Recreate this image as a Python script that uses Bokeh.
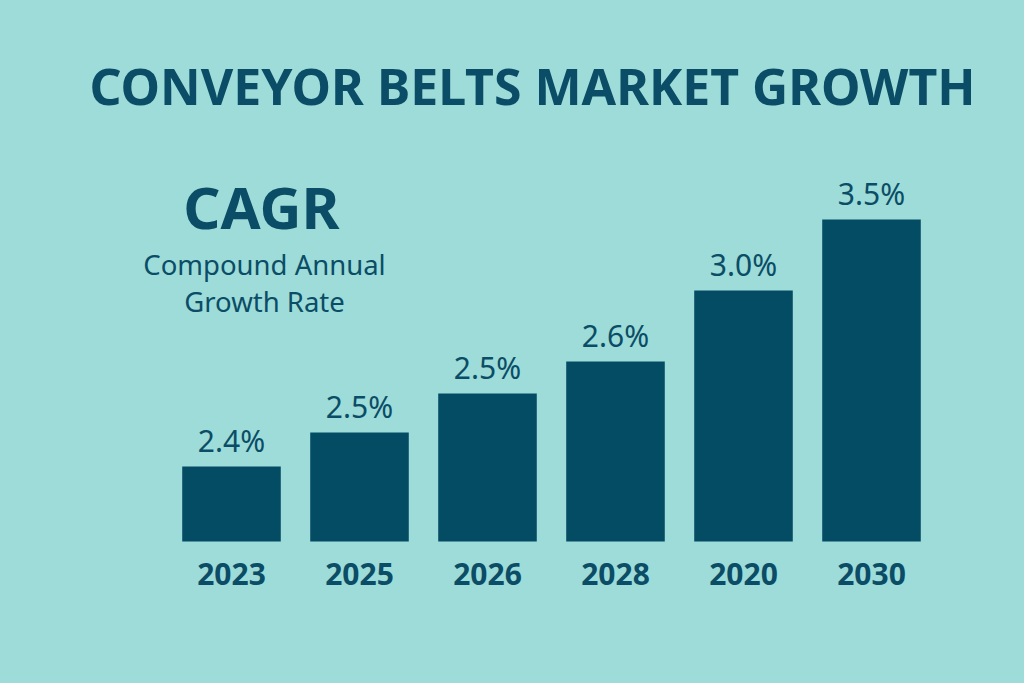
from bokeh.plotting import figure
from bokeh.models import ColumnDataSource, Range1d, Label
from bokeh.core.properties import value
from bokeh.embed import file_html
from bokeh.resources import INLINE

# ---- data ----
years = ["2023", "2025", "2026", "2028", "2020", "2030"]
cagr_labels = ["2.4%", "2.5%", "2.5%", "2.6%", "3.0%", "3.5%"]
# bar heights as drawn (not proportional to the labels), in units of 100 px
bar_heights = [0.75, 1.09, 1.48, 1.80, 2.51, 3.22]

title_text = "CONVEYOR BELTS MARKET GROWTH"
cagr_title = "CAGR"
cagr_sub = ["Compound Annual", "Growth Rate"]

BG = "#9ddcd9"
BAR = "#034c64"
TXT = "#0b4d66"
FONT = "Noto Sans"
FONT_MED = "'Noto Sans Medium', 'Noto Sans'"

W, H = 1016, 675
positions = list(range(len(years)))

src = ColumnDataSource(dict(x=positions, top=bar_heights, lab=cagr_labels, yr=years,
                            zero=[0] * len(years)))

x0 = -231 / 128.0
y0 = -(H - 541) / 100.0
p = figure(width=W, height=H, output_backend="svg", toolbar_location=None,
           x_range=Range1d(x0, x0 + W / 128.0),
           y_range=Range1d(y0, y0 + H / 100.0),
           min_border=0, background_fill_color=BG, border_fill_color=BG)
p.axis.visible = False
p.grid.visible = False
p.outline_line_color = None

p.vbar(x="x", top="top", bottom=0, width=0.77, source=src, fill_color=BAR, line_color=None)

p.text(x="x", y="top", text="lab", source=src, text_align="center",
       text_baseline="alphabetic", y_offset=-26, text_color=TXT,
       text_font=value(FONT_MED), text_font_size="30px")

p.text(x="x", y="zero", text="yr", source=src, text_align="center",
       text_baseline="alphabetic", y_offset=32, text_color=TXT,
       text_font=value(FONT), text_font_size="30px", text_font_style="bold")

p.add_layout(Label(x=532, y=590, x_units="screen", y_units="screen", text=title_text,
                   text_align="center", text_baseline="alphabetic", text_color=TXT,
                   text_font=FONT, text_font_size="50px", text_font_style="bold"))
p.add_layout(Label(x=261, y=469, x_units="screen", y_units="screen", text=cagr_title,
                   text_align="center", text_baseline="alphabetic", text_color=TXT,
                   text_font=FONT, text_font_size="58px", text_font_style="bold"))
p.add_layout(Label(x=264, y=411, x_units="screen", y_units="screen", text=cagr_sub[0],
                   text_align="center", text_baseline="alphabetic", text_color=TXT,
                   text_font=FONT_MED, text_font_size="27.5px"))
p.add_layout(Label(x=264, y=374, x_units="screen", y_units="screen", text=cagr_sub[1],
                   text_align="center", text_baseline="alphabetic", text_color=TXT,
                   text_font=FONT_MED, text_font_size="27.5px"))

html = file_html(p, INLINE)
html = html.replace("<body>", '<body style="background-color:%s">' % BG)
open("out.html", "w").write(html)
